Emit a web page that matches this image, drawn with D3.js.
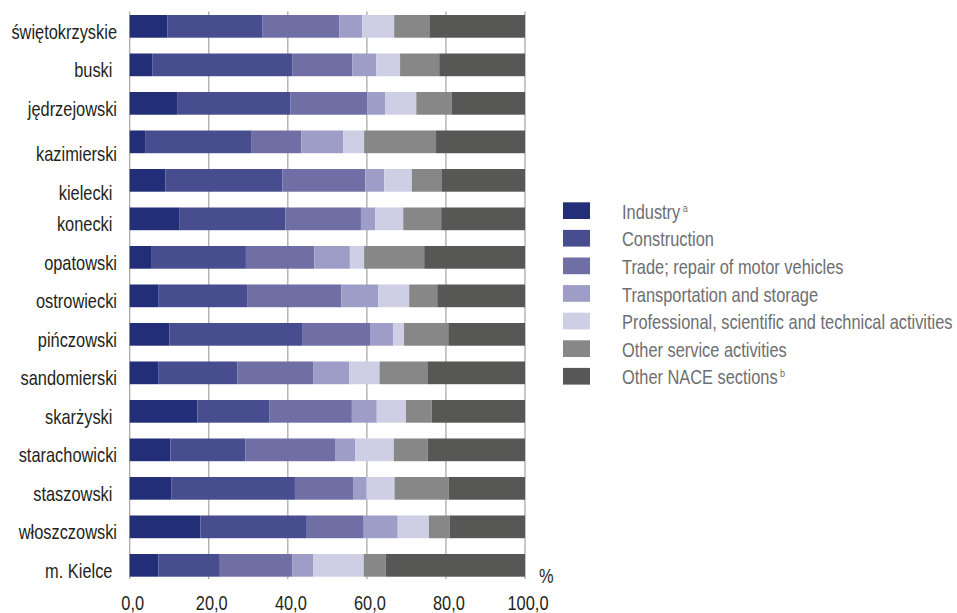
<!DOCTYPE html>
<html>
<head>
<meta charset="utf-8">
<script src="https://cdn.jsdelivr.net/npm/d3@7"></script>
<style>
  html, body { margin: 0; padding: 0; background: #fff; }
  svg { display: block; }
  text { font-family: "Liberation Sans", Arial, sans-serif; }
</style>
</head>
<body>
<svg id="chart" width="957" height="613"></svg>
<script>
// ---- data ----
const categories = ["świętokrzyskie", "buski ", "jędrzejowski", "kazimierski", "kielecki ", "konecki ",
  "opatowski", "ostrowiecki", "pińczowski", "sandomierski", "skarżyski ", "starachowicki",
  "staszowski ", "włoszczowski", "m. Kielce "];
const seriesNames = ["Industry", "Construction", "Trade; repair of motor vehicles", "Transportation and storage",
  "Professional, scientific and technical activities", "Other service activities", "Other NACE sections"];
const seriesSup = ["a", "", "", "", "", "", "b"];
const industry     = [9.5, 5.7, 12.0, 3.9, 9.0, 12.5, 5.4, 7.2, 10.0, 7.2, 17.1, 10.3, 10.6, 17.9, 7.3];
const construction = [24.0, 35.4, 28.6, 26.8, 29.6, 26.9, 24.0, 22.5, 33.6, 20.0, 18.3, 19.0, 31.2, 26.9, 15.5];
const trade        = [19.5, 15.2, 19.5, 12.7, 21.0, 19.1, 17.3, 23.8, 17.2, 19.2, 20.8, 22.8, 14.7, 14.4, 18.4];
const transport    = [5.8, 6.1, 4.5, 10.6, 4.8, 3.6, 9.0, 9.4, 5.8, 9.1, 6.3, 5.0, 3.4, 8.6, 5.3];
const professional = [8.1, 6.0, 7.9, 5.3, 7.0, 7.1, 3.6, 7.8, 2.8, 7.7, 7.4, 9.7, 7.1, 7.9, 12.7];
const otherService = [8.9, 9.9, 9.0, 18.2, 7.6, 9.6, 15.2, 7.1, 11.2, 12.1, 6.5, 8.6, 13.7, 5.3, 5.6];
const otherNace    = [24.2, 21.7, 18.5, 22.5, 21.0, 21.2, 25.5, 22.2, 19.4, 24.7, 23.6, 24.6, 19.3, 19.0, 35.2];
const xTicks = [0, 20, 40, 60, 80, 100];
const xTickLabels = ["0,0", "20,0", "40,0", "60,0", "80,0", "100,0"];

// ---- styles ----
const colors = ["#222f78", "#474d8f", "#6f6fa6", "#9e9dc7", "#cecee5", "#878787", "#575755"];
const labelNudge = { "kazimierski": 7, "kielecki ": 7 };
const narrow = 0.82; // horizontal squeeze to imitate a condensed face

const seriesValues = [industry, construction, trade, transport, professional, otherService, otherNace];
const table = categories.map((c, i) => {
  const row = { cat: c };
  seriesNames.forEach((s, j) => row[s] = seriesValues[j][i]);
  return row;
});

const svg = d3.select("#chart");
const x = d3.scaleLinear().domain([0, 100]).range([129.7, 525]);
const y = d3.scaleBand().domain(categories).range([7.3, 584.4]).paddingInner(0.41).paddingOuter(0.2);

// gridlines
svg.append("g").selectAll("line").data(xTicks).join("line")
  .attr("x1", d => x(d)).attr("x2", d => x(d))
  .attr("y1", 11.5).attr("y2", 579)
  .attr("stroke", "#a3a3a3").attr("stroke-width", 1.2);

// bars
const stack = d3.stack().keys(seriesNames)(table);
svg.append("g").selectAll("g").data(stack).join("g")
  .attr("fill", (d, i) => colors[i])
  .selectAll("rect").data(d => d).join("rect")
  .attr("x", d => x(d[0]))
  .attr("width", d => x(d[1]) - x(d[0]))
  .attr("y", d => y(d.data.cat))
  .attr("height", y.bandwidth());

// category labels
svg.append("g").selectAll("text").data(categories).join("text")
  .attr("transform", d => `translate(117,${y(d) + y.bandwidth() + 1 + (labelNudge[d] || 0)}) scale(${narrow},1)`)
  .attr("text-anchor", "end")
  .style("white-space", "pre")
  .attr("font-size", 20)
  .attr("fill", "#231f20")
  .text(d => d);

// x tick labels
svg.append("g").selectAll("text").data(xTicks).join("text")
  .attr("transform", d => `translate(${x(d) + 3},610) scale(${narrow},1)`)
  .attr("text-anchor", "middle")
  .attr("font-size", 20)
  .attr("fill", "#231f20")
  .text((d, i) => xTickLabels[i]);

svg.append("text").attr("transform", `translate(539,583) scale(${narrow},1)`)
  .attr("font-size", 20).attr("fill", "#231f20").text("%");

// legend
const legend = svg.append("g").selectAll("g").data(seriesNames).join("g")
  .attr("transform", (d, i) => `translate(563,${202.3 + i * 27.6})`);
legend.append("rect").attr("width", 27).attr("height", 16.7)
  .attr("fill", (d, i) => colors[i]);
const lt = legend.append("text").attr("transform", `translate(59,16.5) scale(${narrow},1)`)
  .attr("font-size", 20).attr("fill", "#6d6e71");
lt.append("tspan").text(d => d);
lt.filter((d, i) => seriesSup[i]).append("tspan")
  .attr("dx", 3).attr("dy", -7).attr("font-size", 11)
  .text(d => seriesSup[seriesNames.indexOf(d)]);
</script>
</body>
</html>
